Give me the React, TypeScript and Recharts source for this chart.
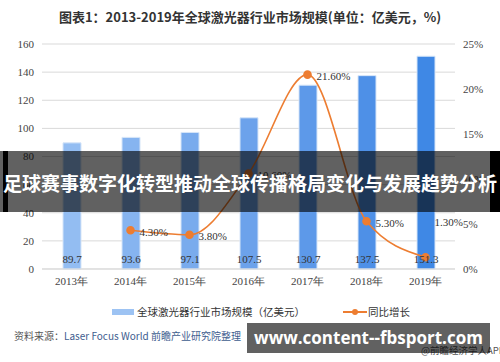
import {
  ComposedChart,
  Bar,
  Line,
  Cell,
  XAxis,
  YAxis,
  CartesianGrid,
  LabelList,
} from "recharts";

const years = ["2013年", "2014年", "2015年", "2016年", "2017年", "2018年", "2019年"];
const marketSize = [89.7, 93.6, 97.1, 107.5, 130.7, 137.5, 151.3];
const growthRate = [null, 4.3, 3.8, 10.6, 21.6, 5.3, 1.3];
const leftTicks = [0, 20, 40, 60, 80, 100, 120, 140, 160];
const rightTicks = [0, 5, 10, 15, 20, 25];

const barColors = ["#93bdf2", "#86b4f0", "#79abed", "#6ca2eb", "#5d99e9", "#4e90e7", "#3f88e5"];

const data = years.map((year, i) => ({
  year,
  size: marketSize[i],
  growth: growthRate[i],
}));

const serif = "'Liberation Serif', 'DejaVu Serif', serif";
const sans = "'Noto Sans CJK SC', 'Noto Sans', sans-serif";

// growth labels sit to the right of the point, the last one is pushed up
const GrowthLabel = (props: any) => {
  const { x, y, value, index } = props;
  if (value == null) return null;
  const dy = index === 6 ? -34 : 3;
  return (
    <text
      x={x + 9}
      y={y + dy}
      fontSize={11}
      fontFamily={serif}
      fill="#333"
      textAnchor="start"
      dominantBaseline="middle"
    >
      {value.toFixed(2)}%
    </text>
  );
};

const App = () => {
  return (
    <div
      style={{
        position: "absolute",
        left: 0,
        top: 0,
        width: 500,
        height: 362,
        background: "#fff",
        overflow: "hidden",
        fontFamily: sans,
      }}
    >
      <div
        style={{
          position: "absolute",
          top: 7,
          left: 0,
          width: 500,
          textAlign: "center",
          fontSize: 13,
          fontWeight: "bold",
          color: "#333",
        }}
      >
        图表1：2013-2019年全球激光器行业市场规模(单位：亿美元，%)
      </div>

      <ComposedChart
        width={500}
        height={362}
        data={data}
        margin={{ top: 44, right: 5, bottom: 63, left: 12 }}
        style={{ position: "absolute", left: 0, top: 0 }}
      >
        <CartesianGrid vertical={false} stroke="#d9d9d9" yAxisId="left" />
        <XAxis
          dataKey="year"
          height={30}
          axisLine={{ stroke: "#d9d9d9" }}
          tickLine={false}
          tick={{ fontSize: 11, fontFamily: serif, fill: "#444" }}
        />
        <YAxis
          yAxisId="left"
          width={30}
          domain={[0, 160]}
          ticks={leftTicks}
          axisLine={false}
          tickLine={false}
          tick={{ fontSize: 11, fontFamily: serif, fill: "#444" }}
        />
        <YAxis
          yAxisId="right"
          orientation="right"
          width={40}
          domain={[0, 25]}
          ticks={rightTicks}
          tickFormatter={(v) => v + "%"}
          axisLine={false}
          tickLine={false}
          tick={{ fontSize: 11, fontFamily: serif, fill: "#444", textAnchor: "start" }}
        />
        <Bar
          yAxisId="left"
          dataKey="size"
          barSize={18}
          stroke="#d6e5f8"
          strokeWidth={1}
          isAnimationActive={false}
        >
          {data.map((d, i) => (
            <Cell key={d.year} fill={barColors[i]} />
          ))}
          <LabelList
            dataKey="size"
            position="insideBottom"
            offset={6}
            style={{ fontSize: 11, fontFamily: serif, fill: "#333" }}
          />
        </Bar>
        <Line
          yAxisId="right"
          dataKey="growth"
          type="monotone"
          stroke="#ed7d31"
          strokeWidth={1.6}
          dot={{ r: 3.5, fill: "#ed7d31", stroke: "#ed7d31" }}
          isAnimationActive={false}
        >
          <LabelList dataKey="growth" content={GrowthLabel} />
        </Line>
      </ComposedChart>

      {/* legend */}
      <div
        style={{
          position: "absolute",
          top: 304,
          left: 112,
          display: "flex",
          alignItems: "center",
          fontSize: 10.5,
          color: "#333",
          whiteSpace: "nowrap",
        }}
      >
        <span style={{ display: "inline-block", width: 22, height: 6, background: "#9dc3f3", marginRight: 3 }} />
        <span>全球激光器行业市场规模（亿美元）</span>
        <span style={{ position: "relative", display: "inline-block", width: 24, height: 10, marginLeft: 38, marginRight: 1 }}>
          <span style={{ position: "absolute", left: 0, top: 4, width: 24, height: 2, background: "#ed7d31" }} />
          <span style={{ position: "absolute", left: 9, top: 2, width: 6, height: 6, borderRadius: 3, background: "#ed7d31" }} />
        </span>
        <span>同比增长</span>
      </div>

      {/* source */}
      <div
        style={{
          position: "absolute",
          top: 328,
          left: 14,
          fontSize: 10,
          color: "#555",
          whiteSpace: "nowrap",
        }}
      >
        资料来源：<span style={{ color: "#3e5d8f" }}>Laser Focus World 前瞻产业研究院整理</span>
      </div>
      <div
        style={{
          position: "absolute",
          top: 343,
          left: 421,
          fontSize: 9.5,
          color: "#555",
          whiteSpace: "nowrap",
        }}
      >
        @前瞻经济学人APP
      </div>

      {/* overlay banner */}
      <div
        style={{
          position: "absolute",
          left: 0,
          top: 151,
          width: 500,
          height: 61,
          background: "rgba(0,0,0,0.62)",
        }}
      />
      <div style={{ position: "absolute", left: 3, top: 151, width: 5, height: 61, background: "#000" }} />
      <div style={{ position: "absolute", left: 490, top: 151, width: 10, height: 61, background: "#000" }} />
      <div
        style={{
          position: "absolute",
          left: 0,
          top: 170,
          width: 500,
          textAlign: "center",
          fontSize: 19,
          fontWeight: "bold",
          color: "#fff",
          whiteSpace: "nowrap",
          lineHeight: "26px",
        }}
      >
        足球赛事数字化转型推动全球传播格局变化与发展趋势分析
      </div>

      {/* footer banner */}
      <div
        style={{
          position: "absolute",
          left: 247,
          top: 323,
          width: 243,
          height: 30,
          background: "rgba(0,0,0,0.62)",
          color: "#fff",
          fontFamily: "'Open Sans', 'Noto Sans', sans-serif",
          fontWeight: "bold",
          fontSize: 17,
          lineHeight: "30px",
          textAlign: "center",
          whiteSpace: "nowrap",
        }}
      >
        www.content--fbsport.com
      </div>
    </div>
  );
};

export default App;
